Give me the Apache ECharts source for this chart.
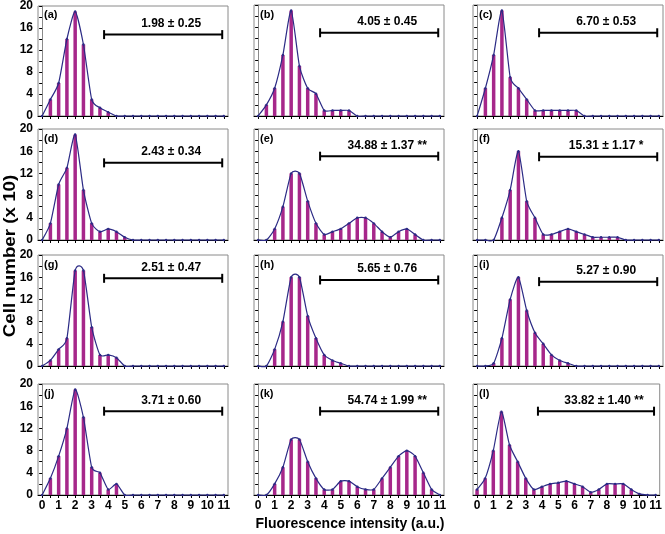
<!DOCTYPE html>
<html><head><meta charset="utf-8">
<script src="https://cdn.jsdelivr.net/npm/echarts@6/dist/echarts.min.js"></script>
<style>html,body{margin:0;padding:0;background:#fff}#c{width:665px;height:534px}</style>
</head><body><div id="c"></div>
<script>
// Fluorescence intensity bins (a.u.)
const bins = [0,0.5,1,1.5,2,2.5,3,3.5,4,4.5,5,5.5,6,6.5,7,7.5,8,8.5,9,9.5,10,10.5,11];
const xTickLabels = [0,1,2,3,4,5,6,7,8,9,10,11];
const yTickLabels = [0,4,8,12,16,20];
const panelLabels = ['(a)','(b)','(c)','(d)','(e)','(f)','(g)','(h)','(i)','(j)','(k)','(l)'];
const annotations = ['1.98 ± 0.25','4.05 ± 0.45','6.70 ± 0.53','2.43 ± 0.34','34.88 ± 1.37 **','15.31 ± 1.17 *','2.51 ± 0.47','5.65 ± 0.76','5.27 ± 0.90','3.71 ± 0.60','54.74 ± 1.99 **','33.82 ± 1.40 **'];
const bracketFrom = 3.75, bracketTo = 10.9;
const bracketY = [14.8,15,15,13.9,15.1,15,15.8,15.5,15.2,15.1,15.1,15.1];

// Cell number (x 10) per bin
const a = [0,3,6,14,19,13,3,1.5,0.7,0,0,0,0,0,0,0,0,0,0,0,0,0,0];
const b = [0,2,5,11,19,9,5,4,1,1,1,1,0,0,0,0,0,0,0,0,0,0,0];
const c = [0,5,11,19,7,5,3,1,1,1,1,1,1,0,0,0,0,0,0,0,0,0,0];
const d = [0,3,10,13,19,9,3,1.5,2,1.5,0.5,0,0,0,0,0,0,0,0,0,0,0,0];
const e = [0,0,2,6,12,12,7,3,1,1.5,2,3,4,4,3,1.5,0.5,1.5,2,1,0,0,0];
const f = [0,0,0,4,9,16,7,4,1,1,1.5,2,1.5,1,0.5,0.5,0.5,0.5,0,0,0,0,0];
const g = [0,1,3,5,17.2,17.2,7,2,2,1.5,0,0,0,0,0,0,0,0,0,0,0,0,0];
const h = [0,0,3,8,16,16,9,5,2,1,0.5,0,0,0,0,0,0,0,0,0,0,0,0];
const i_ = [0,0,0.5,5,12,16,10,6,4,2,1,0.5,0,0,0,0,0,0,0,0,0,0,0];
const j = [0,3,7,12,19,14,5,4,1,2,0,0,0,0,0,0,0,0,0,0,0,0,0];
const k = [0,0,2,5,10,10,6,3,1,1,2.5,2.5,1.5,1,1,3,5,7,8,7,4,1,0];
const l = [1,3,8,15,9,6,3,1,1.5,2,2.2,2.5,2,1.5,0.5,1,2,2,2,1,0.2,0,0];
const panels = [a,b,c,d,e,f,g,h,i_,j,k,l];

const colLeft = [38, 254, 473];
const rowTop = [5, 129, 255, 384];
const W = 190, H = 111;
const FONT = 'Liberation Sans, Arial, sans-serif';
const BAR = '#A6278A', LINE = '#2B2A85';

// Smooth spline drawn through the data points via the axis scales
function splineRenderer(pts) {
  return function (params, api) {
    if (params.dataIndex !== 0) return null;
    const P = pts.map(pt => api.coord(pt));
    const path = ['M' + P[0][0] + ',' + P[0][1]];
    const t = 0.1;
    for (let n = 0; n < P.length - 1; n++) {
      const p0 = P[Math.max(0, n - 1)], p1 = P[n], p2 = P[n + 1], p3 = P[Math.min(P.length - 1, n + 2)];
      const c1x = p1[0] + (p2[0] - p0[0]) * t, c1y = p1[1] + (p2[1] - p0[1]) * t;
      const c2x = p2[0] - (p3[0] - p1[0]) * t, c2y = p2[1] - (p3[1] - p1[1]) * t;
      path.push('C' + c1x + ',' + c1y + ' ' + c2x + ',' + c2y + ' ' + p2[0] + ',' + p2[1]);
    }
    const children = [{type: 'path', shape: {pathData: path.join(' ')}, style: {fill: 'none', stroke: LINE, lineWidth: 1.2}}];
    P.forEach(q => children.push({type: 'circle', shape: {cx: q[0], cy: q[1], r: 1.2}, style: {fill: LINE}}));
    return {type: 'group', children: children};
  };
}

const grids = [], xAxes = [], yAxes = [], series = [], titles = [];
panels.forEach((vals, p) => {
  const r = Math.floor(p / 3), cc = p % 3;
  grids.push({left: colLeft[cc], top: rowTop[r], width: W, height: H, show: true, borderColor: '#8a8a8a', borderWidth: 1, backgroundColor: 'transparent'});
  xAxes.push({type: 'value', gridIndex: p, min: -0.25, max: 11.25,
    axisLine: {show: true, onZero: false, lineStyle: {color: '#000', width: 1}},
    axisTick: {show: true, customValues: bins, length: 3, lineStyle: {color: '#000'}},
    axisLabel: {show: r === 3, customValues: xTickLabels, fontFamily: FONT, fontWeight: 'bold', fontSize: 12, color: '#000', margin: 5},
    splitLine: {show: false}});
  yAxes.push({type: 'value', gridIndex: p, min: 0, max: 20, interval: 4,
    axisLine: {show: true, lineStyle: {color: '#8a8a8a'}},
    axisTick: {show: true, length: 3, lineStyle: {color: '#000'}},
    minorTick: {show: true, splitNumber: 2, length: 3, lineStyle: {color: '#000'}},
    axisLabel: {show: cc === 0, fontFamily: FONT, fontWeight: 'bold', fontSize: 12, color: '#000', margin: 5},
    splitLine: {show: false}});
  const pts = bins.map((x, n) => [x, vals[n]]);
  series.push({type: 'bar', xAxisIndex: p, yAxisIndex: p, data: pts, barWidth: 3.5, itemStyle: {color: BAR}, z: 2, silent: true});
  series.push({type: 'custom', xAxisIndex: p, yAxisIndex: p, data: pts, renderItem: splineRenderer(pts), z: 3, silent: true, clip: false});
  series.push({type: 'line', xAxisIndex: p, yAxisIndex: p, data: [[bracketFrom, bracketY[p]], [bracketTo, bracketY[p]]],
    symbol: 'rect', symbolSize: [2, 9], itemStyle: {color: '#000'}, lineStyle: {color: '#000', width: 2}, z: 4, silent: true,
    markLine: {silent: true, symbol: 'none', lineStyle: {color: 'rgba(0,0,0,0)', width: 0},
      label: {show: true, position: 'middle', formatter: annotations[p], fontFamily: FONT, fontWeight: 'bold', fontSize: 12, color: '#000', distance: 5, offset: [8, 0]},
      data: [[{coord: [bracketFrom, bracketY[p]]}, {coord: [bracketTo, bracketY[p]]}]]}});
  titles.push({text: panelLabels[p], left: colLeft[cc] + 6, top: rowTop[r] + 4, padding: 0,
    textStyle: {fontFamily: FONT, fontWeight: 'bold', fontSize: 11, color: '#000'}});
});
titles.push({text: 'Fluorescence intensity (a.u.)', left: 350, top: 517, textAlign: 'center', padding: 0,
  textStyle: {fontFamily: FONT, fontWeight: 'bold', fontSize: 14, color: '#000'}});

const chart = echarts.init(document.getElementById('c'), null, {renderer: 'canvas'});
chart.setOption({
  animation: false,
  title: titles,
  grid: grids, xAxis: xAxes, yAxis: yAxes, series: series,
  graphic: [{type: 'text', x: 11, y: 256, rotation: Math.PI / 2, scaleX: 1.25, scaleY: 1.05, silent: true,
    style: {text: 'Cell number (x 10)', font: 'bold 15px ' + FONT, fill: '#000', align: 'center', verticalAlign: 'middle'}}]
});
</script></body></html>
